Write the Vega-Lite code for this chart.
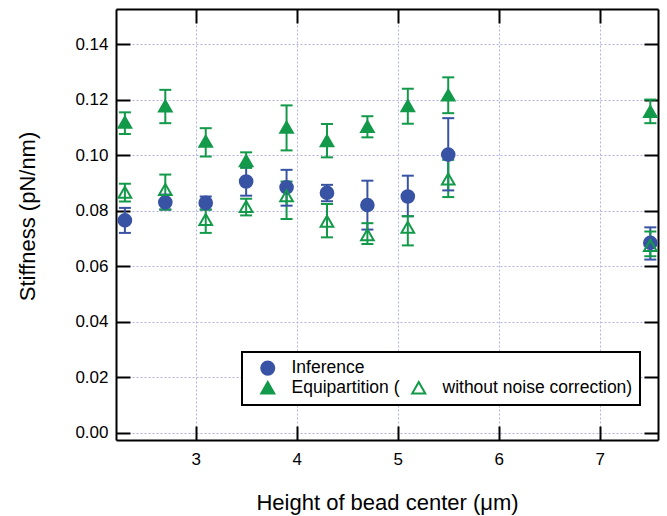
{
  "$schema": "https://vega.github.io/schema/vega-lite/v6.json",
  "autosize": {"type": "none"},
  "width": 542,
  "height": 431,
  "padding": {"left": 116, "top": 9, "right": 9, "bottom": 76},
  "background": "white",
  "config": {
    "font": "Liberation Sans",
    "view": {"stroke": null},
    "axis": {
      "domainColor": "black",
      "domainWidth": 2,
      "tickColor": "black",
      "tickWidth": 2,
      "tickSize": -14,
      "labelFont": "Liberation Sans",
      "labelFontSize": 17,
      "labelColor": "black",
      "titleFont": "Liberation Sans",
      "titleFontSize": 22,
      "titleFontWeight": "normal",
      "titleColor": "black",
      "gridColor": "#b2b2e2",
      "gridDash": [2, 2],
      "gridWidth": 1,
      "gridOpacity": 1
    },
    "legend": {
      "strokeColor": "black",
      "strokeWidth": 2,
      "fillColor": "white",
      "padding": 7,
      "labelFont": "Liberation Sans",
      "labelFontSize": 17.5,
      "labelColor": "black",
      "labelLimit": 400,
      "symbolSize": 170,
      "symbolStrokeWidth": 2,
      "symbolOffset": 10,
      "labelOffset": 15,
      "columnPadding": 0,
      "rowPadding": -5
    }
  },
  "data": {
    "values": [
      {"x": 2.3, "series": "Inference", "y": 0.0765, "lo": 0.072, "hi": 0.081},
      {"x": 2.7, "series": "Inference", "y": 0.083, "lo": 0.0804, "hi": 0.0858},
      {"x": 3.1, "series": "Inference", "y": 0.0828, "lo": 0.0804, "hi": 0.0851},
      {"x": 3.5, "series": "Inference", "y": 0.0905, "lo": 0.0854, "hi": 0.096},
      {"x": 3.9, "series": "Inference", "y": 0.0884, "lo": 0.0818, "hi": 0.0947},
      {"x": 4.3, "series": "Inference", "y": 0.0864, "lo": 0.0834, "hi": 0.0893},
      {"x": 4.7, "series": "Inference", "y": 0.082, "lo": 0.0732, "hi": 0.0908},
      {"x": 5.1, "series": "Inference", "y": 0.0851, "lo": 0.078, "hi": 0.0926},
      {"x": 5.5, "series": "Inference", "y": 0.1002, "lo": 0.0873, "hi": 0.1133},
      {"x": 7.5, "series": "Inference", "y": 0.0684, "lo": 0.0624, "hi": 0.074},
      {"x": 2.3, "series": "Equipartition (", "y": 0.1118, "lo": 0.1076, "hi": 0.1154},
      {"x": 2.7, "series": "Equipartition (", "y": 0.1177, "lo": 0.1115, "hi": 0.1235},
      {"x": 3.1, "series": "Equipartition (", "y": 0.105, "lo": 0.0995, "hi": 0.1097},
      {"x": 3.5, "series": "Equipartition (", "y": 0.098, "lo": 0.0954, "hi": 0.101},
      {"x": 3.9, "series": "Equipartition (", "y": 0.11, "lo": 0.1017, "hi": 0.1179},
      {"x": 4.3, "series": "Equipartition (", "y": 0.1052, "lo": 0.0992, "hi": 0.1112},
      {"x": 4.7, "series": "Equipartition (", "y": 0.1103, "lo": 0.1064, "hi": 0.114},
      {"x": 5.1, "series": "Equipartition (", "y": 0.1178, "lo": 0.1113, "hi": 0.1239},
      {"x": 5.5, "series": "Equipartition (", "y": 0.1216, "lo": 0.1151, "hi": 0.128},
      {"x": 7.5, "series": "Equipartition (", "y": 0.1157, "lo": 0.1115, "hi": 0.12},
      {"x": 2.3, "series": "without noise correction)", "y": 0.0866, "lo": 0.0833, "hi": 0.0897},
      {"x": 2.7, "series": "without noise correction)", "y": 0.0876, "lo": 0.0804, "hi": 0.093},
      {"x": 3.1, "series": "without noise correction)", "y": 0.0768, "lo": 0.072, "hi": 0.0804},
      {"x": 3.5, "series": "without noise correction)", "y": 0.0815, "lo": 0.0783, "hi": 0.0843},
      {"x": 3.9, "series": "without noise correction)", "y": 0.0854, "lo": 0.077, "hi": 0.0905},
      {"x": 4.3, "series": "without noise correction)", "y": 0.0762, "lo": 0.0704, "hi": 0.0824},
      {"x": 4.7, "series": "without noise correction)", "y": 0.0713, "lo": 0.068, "hi": 0.0755},
      {"x": 5.1, "series": "without noise correction)", "y": 0.074, "lo": 0.0675, "hi": 0.078},
      {"x": 5.5, "series": "without noise correction)", "y": 0.0914, "lo": 0.0849, "hi": 0.0983},
      {"x": 7.5, "series": "without noise correction)", "y": 0.0675, "lo": 0.0636, "hi": 0.0725}
    ]
  },
  "resolve": {"axis": {"x": "independent", "y": "independent"}},
  "layer": [
    {
      "mark": {"type": "rule", "strokeWidth": 2},
      "encoding": {
        "x": {
          "field": "x", "type": "quantitative",
          "scale": {"domain": [2.212, 7.576], "nice": false, "zero": false},
          "axis": {
            "orient": "bottom",
            "values": [3, 4, 5, 6, 7],
            "grid": true,
            "labelPadding": 25,
            "title": "Height of bead center (μm)",
            "titleY": 69,
            "titleBaseline": "alphabetic"
          }
        },
        "y": {
          "field": "lo", "type": "quantitative",
          "scale": {"domain": [-0.00255, 0.1526], "nice": false, "zero": false},
          "axis": {
            "orient": "left",
            "values": [0, 0.02, 0.04, 0.06, 0.08, 0.1, 0.12, 0.14],
            "format": ".2f",
            "grid": true,
            "labelPadding": 22,
            "title": "Stiffness (pN/nm)",
            "titleX": -89,
            "titleY": 207,
            "titleBaseline": "middle"
          }
        },
        "y2": {"field": "hi"},
        "color": {
          "field": "series", "type": "nominal",
          "scale": {"domain": ["Inference", "Equipartition (", "without noise correction)"], "range": ["#3953a4", "#13994a", "#13994a"]},
          "legend": null
        }
      }
    },
    {
      "mark": {"type": "tick", "orient": "horizontal", "size": 12, "thickness": 2, "opacity": 1},
      "encoding": {
        "x": {
          "field": "x", "type": "quantitative",
          "axis": {"orient": "top", "values": [3, 4, 5, 6, 7], "labels": false, "grid": false, "title": null}
        },
        "y": {
          "field": "lo", "type": "quantitative",
          "axis": {"orient": "right", "values": [0, 0.02, 0.04, 0.06, 0.08, 0.1, 0.12, 0.14], "labels": false, "grid": false, "title": null}
        },
        "color": {"field": "series", "type": "nominal", "legend": null}
      }
    },
    {
      "mark": {"type": "tick", "orient": "horizontal", "size": 12, "thickness": 2, "opacity": 1},
      "encoding": {
        "x": {"field": "x", "type": "quantitative", "axis": null},
        "y": {"field": "hi", "type": "quantitative", "axis": null},
        "color": {"field": "series", "type": "nominal", "legend": null}
      }
    },
    {
      "mark": {"type": "point", "size": 160, "strokeWidth": 2, "opacity": 1},
      "encoding": {
        "x": {"field": "x", "type": "quantitative", "axis": null},
        "y": {"field": "y", "type": "quantitative", "axis": null},
        "shape": {
          "field": "series", "type": "nominal",
          "scale": {"domain": ["Inference", "Equipartition (", " ", "without noise correction)"], "range": ["circle", "triangle-up", "circle", "triangle-up"]},
          "legend": {"title": null, "orient": "none", "legendX": 126, "legendY": 343, "columns": 2}
        },
        "stroke": {
          "field": "series", "type": "nominal",
          "scale": {"domain": ["Inference", "Equipartition (", " ", "without noise correction)"], "range": ["#3953a4", "#13994a", "transparent", "#13994a"]},
          "legend": {"title": null, "orient": "none", "legendX": 126, "legendY": 343, "columns": 2}
        },
        "fill": {
          "field": "series", "type": "nominal",
          "scale": {"domain": ["Inference", "Equipartition (", " ", "without noise correction)"], "range": ["#3953a4", "#13994a", "transparent", "transparent"]},
          "legend": {"title": null, "orient": "none", "legendX": 126, "legendY": 343, "columns": 2}
        }
      }
    }
  ]
}
